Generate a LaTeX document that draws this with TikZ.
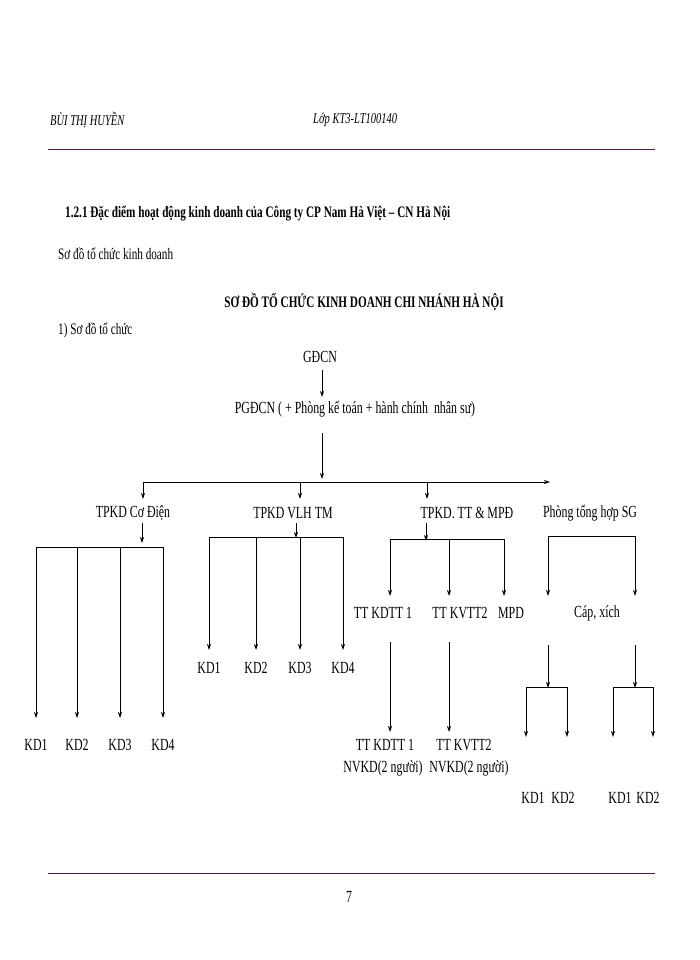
\documentclass[tikz,border=0pt]{standalone}
\usepackage{fontspec}
\setmainfont[FakeStretch=0.7]{Liberation Serif}
\usetikzlibrary{arrows.meta}
\definecolor{rulec}{RGB}{70,30,70}
\tikzset{
 lbl/.style={inner sep=0pt,font=\fontsize{17}{19}\selectfont},
 hdr/.style={inner sep=0pt,font=\fontsize{15}{17}\selectfont\itshape},
 txt/.style={inner sep=0pt,anchor=west,font=\fontsize{16}{18}\selectfont},
 ln/.style={draw=black,line width=0.8pt},
 ar/.style={ln,-{Stealth[length=6pt,width=4pt]}},
}
\begin{document}
\begin{tikzpicture}[x=1pt,y=-1pt]
\fill[white] (0,0) rectangle (700,960);
\useasboundingbox (0,0) rectangle (700,960);
\node[hdr,anchor=west] (h1) at (50,120) {BÙI THỊ HUYỀN};
\node[hdr,anchor=west] (h2) at (313,120) {Lớp KT3-LT100140};
\draw[rulec,line width=1pt] (48,150) -- (655,150);
\draw[rulec,line width=1pt] (48,873) -- (655,873);
\node[lbl] (pg) at (349,897) {7};
\node[txt,font=\fontsize{16}{18}\selectfont\bfseries] (t1) at (65,213) {1.2.1 Đặc điểm hoạt động kinh doanh của Công ty CP Nam Hà Việt – CN Hà Nội};
\node[txt] (t2) at (58,254) {Sơ đồ tổ chức kinh doanh};
\node[lbl,font=\fontsize{16}{18}\selectfont\bfseries] (t3) at (364,302) {SƠ ĐỒ TỔ CHỨC KINH DOANH CHI NHÁNH HÀ NỘI};
\node[txt] (t4) at (58,330) {1) Sơ đồ tổ chức};
% top
\node[lbl] (gd) at (320,357) {GĐCN};
\node[lbl] (pgd) at (355,409) {PGĐCN ( + Phòng kế toán + hành chính \ nhân sư)};
\coordinate (g1) at (322,370); \coordinate (g2) at (322,397);
\draw[ar] (g1) -- (g2);
\coordinate (p1) at (322,433); \coordinate (p2) at (322,479);
\draw[ar] (p1) -- (p2);
\coordinate (mL) at (143,482); \coordinate (mR) at (550,482);
\draw[ar] (mL) -- (mR);
\foreach \x/\n in {143/a,300/b,427/c}{\coordinate (m\n) at (\x,482); \coordinate (e\n) at (\x,499); \draw[ar] (m\n) -- (e\n);}
\node[lbl] (A) at (133,513) {TPKD Cơ Điện};
\node[lbl] (B) at (293,513) {TPKD VLH TM};
\node[lbl] (C) at (467,513) {TPKD. TT \& MPĐ};
\node[lbl] (D) at (590,513) {Phòng tổng hợp SG};
% A branch
\coordinate (a1) at (142,523); \coordinate (a2) at (142,543);
\draw[ar] (a1) -- (a2);
\draw[ln] (36,547) -- (163,547);
\foreach \x/\t in {36/KD1,77/KD2,120/KD3,163/KD4}{
 \coordinate (ta\x) at (\x,547); \coordinate (ba\x) at (\x,718);
 \draw[ar] (ta\x) -- (ba\x);
 \node[lbl] (ka\x) at (\x,745) {\t};}
% B branch
\coordinate (b1) at (296,523); \coordinate (b2) at (296,538);
\draw[ar] (b1) -- (b2);
\draw[ln] (209,537) -- (343,537);
\foreach \x/\t in {209/KD1,256/KD2,300/KD3,343/KD4}{
 \coordinate (tb\x) at (\x,537); \coordinate (bb\x) at (\x,650);
 \draw[ar] (tb\x) -- (bb\x);
 \node[lbl] (kb\x) at (\x,668) {\t};}
% C branch
\coordinate (c1) at (426,523); \coordinate (c2) at (426,541);
\draw[ar] (c1) -- (c2);
\draw[ln] (390,539) -- (504,539);
\foreach \x in {390,449,504}{
 \coordinate (tc\x) at (\x,539); \coordinate (bc\x) at (\x,596);
 \draw[ar] (tc\x) -- (bc\x);}
\node[lbl] (c11) at (383,613) {TT KDTT 1};
\node[lbl] (c12) at (460,613) {TT KVTT2};
\node[lbl] (c13) at (511,613) {MPD};
\coordinate (d1) at (390,642); \coordinate (d2) at (390,732);
\draw[ar] (d1) -- (d2);
\coordinate (d3) at (449,642); \coordinate (d4) at (449,732);
\draw[ar] (d3) -- (d4);
\node[lbl] (c21) at (385,745) {TT KDTT 1};
\node[lbl] (c22) at (464,745) {TT KVTT2};
\node[lbl] (c31) at (383,768) {NVKD(2 người)};
\node[lbl] (c32) at (469,768) {NVKD(2 người)};
% D branch
\draw[ln] (548,536) -- (635,536);
\foreach \x in {548,635}{
 \coordinate (td\x) at (\x,536); \coordinate (bd\x) at (\x,596);
 \draw[ar] (td\x) -- (bd\x);
 \coordinate (ud\x) at (\x,645); \coordinate (vd\x) at (\x,688);
 \draw[ar] (ud\x) -- (vd\x);}
\node[lbl] (cx) at (597,613) {Cáp, xích};
\draw[ln] (526,687) -- (567,687);
\draw[ln] (613,687) -- (653,687);
\foreach \x in {526,567,613,653}{
 \coordinate (te\x) at (\x,687); \coordinate (be\x) at (\x,737);
 \draw[ar] (te\x) -- (be\x);}
\node[lbl] (k1) at (533,798) {KD1};
\node[lbl] (k2) at (563,798) {KD2};
\node[lbl] (k3) at (620,798) {KD1};
\node[lbl] (k4) at (648,798) {KD2};
\end{tikzpicture}
\end{document}
